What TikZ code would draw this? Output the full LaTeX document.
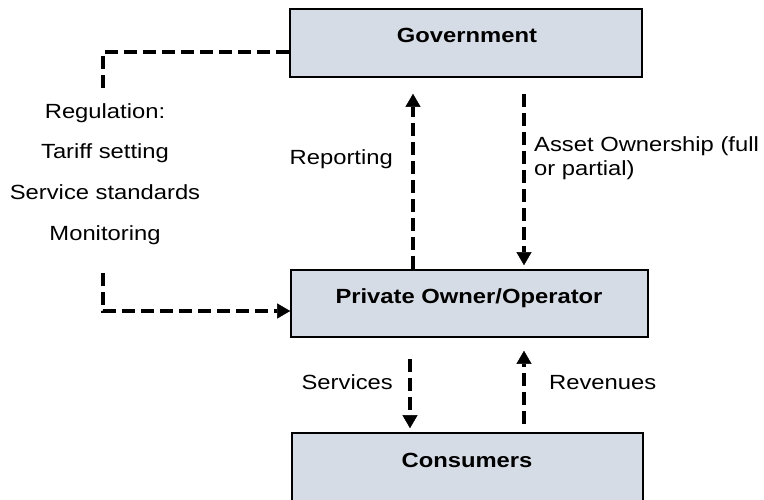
\documentclass[tikz,border=0pt]{standalone}
\usepackage{fontspec}
\setmainfont{Liberation Sans}[FakeStretch=1.16]
\usetikzlibrary{arrows.meta}
\definecolor{boxfill}{RGB}{214,220,229}
\begin{document}
\begin{tikzpicture}[x=1pt,y=-1pt,
  box/.style={draw=black, line width=1.6pt, fill=boxfill, inner sep=0pt},
  boxtitle/.style={font=\fontsize{20.5}{24}\selectfont\bfseries, anchor=base, inner sep=0pt},
  lbl/.style={font=\fontsize{20.5}{24}\selectfont, inner sep=0pt},
  flow/.style={line width=3.6pt, dash pattern=on 13pt off 6pt},
  tip/.style={-{Triangle[width=15pt,length=13pt,line width=0.4pt]}},
  ]
\useasboundingbox (0,0) rectangle (764,500);
\clip (0,0) rectangle (764,500);

% the three parties
\node[box, minimum width=352pt, minimum height=68pt] (gov) at (466,43) {};
\node[box, minimum width=357pt, minimum height=67pt] (priv) at (469.5,303.5) {};
\node[box, minimum width=351pt, minimum height=110pt] (cons) at (467.5,488) {};

\node[boxtitle] (govtitle) at (467,43) {Government};
\node[boxtitle] (privtitle) at (469,303) {Private Owner/Operator};
\node[boxtitle] (constitle) at (467,467) {Consumers};

% regulation link on the left (base anchor = baseline of the last line)
\coordinate (regtop) at (103,88);
\coordinate (regbot) at (103,273);
\node[lbl, align=center, anchor=base, font=\fontsize{20.5}{40.8}\selectfont] (reg) at (105,240.5)
  {Regulation:\\Tariff setting\\Service standards\\Monitoring};
\draw[flow] (gov.west |- 0,52) -| (regtop);
\draw[flow, tip] (regbot) |- (priv.west |- 0,311);

% government <-> private owner
\draw[flow, tip, shorten >=16pt] (priv.north -| 413,0) -- (gov.south -| 413,0);
\draw[flow, tip, shorten <=16pt, shorten >=4pt] (gov.south -| 524,0) -- (priv.north -| 524,0);
\node[lbl, anchor=base east] (rep) at (393,165) {Reporting};
\node[lbl, anchor=base west] (asset) at (534,152) {Asset Ownership (full};
\node[lbl, anchor=base west] (asset2) at (534,176) {or partial)};

% private owner <-> consumers
\draw[flow, tip, shorten <=21pt, shorten >=4pt] (priv.south -| 410,0) -- (cons.north -| 410,0);
\draw[flow, tip, shorten <=8pt, shorten >=13pt] (cons.north -| 524,0) -- (priv.south -| 524,0);
\node[lbl, anchor=base east] (serv) at (393,389) {Services};
\node[lbl, anchor=base west] (rev) at (549,389) {Revenues};
\end{tikzpicture}
\end{document}
